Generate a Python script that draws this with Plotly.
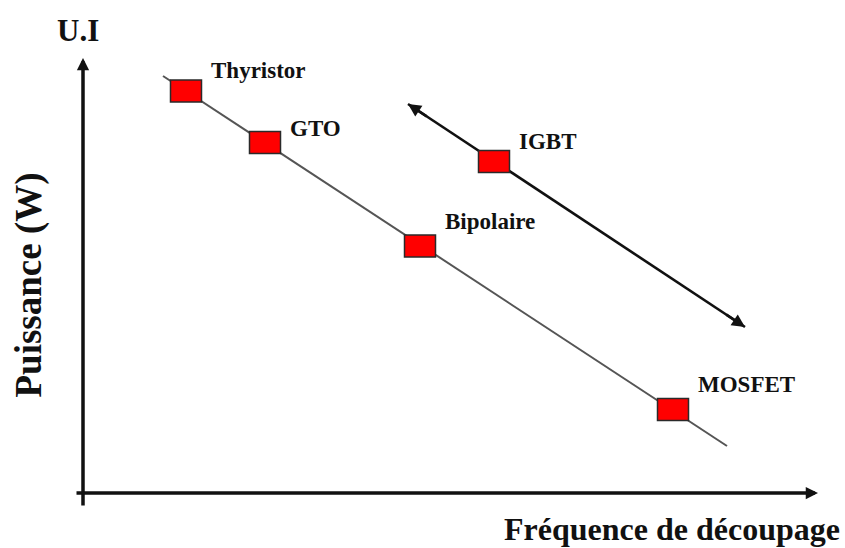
import plotly.graph_objects as go

# Power semiconductor devices: switching frequency vs. power (relative units)
devices = ["Thyristor", "GTO", "Bipolaire", "MOSFET", "IGBT"]
freq = [2.06, 3.64, 6.74, 11.80, 8.22]
power = [8.04, 7.01, 4.94, 1.67, 6.63]

# Trend line through the classic devices
trend_freq = [1.60, 12.88]
trend_power = [8.34, 0.94]

# IGBT operating span (double-headed arrow)
igbt_freq = [6.50, 13.24]
igbt_power = [7.78, 3.32]

# Axis extents (arrow tails and tips)
xaxis_span = [-0.16, 14.70]
yaxis_span = [-0.28, 8.70]

x_title = "Fréquence de découpage"
y_title = "Puissance (W)"
y_unit = "U.I"

# Label offsets in pixels (right, up) from each device marker
label_dx = 23
label_dy = [21, 14, 25, 25, 20]

SERIF = "Liberation Serif, Times New Roman, serif"
INK = "#111111"

fig = go.Figure()

# grey trend line
fig.add_trace(go.Scatter(
    x=trend_freq, y=trend_power, mode="lines",
    line=dict(color="#555555", width=2), hoverinfo="skip", showlegend=False,
))

# IGBT span line (heads added as annotations)
fig.add_trace(go.Scatter(
    x=igbt_freq, y=igbt_power, mode="lines",
    line=dict(color="#111111", width=2.6), hoverinfo="skip", showlegend=False,
))

shapes = []
for f, p in zip(freq, power):
    shapes.append(dict(
        type="rect", xref="x", yref="y",
        xsizemode="pixel", ysizemode="pixel",
        xanchor=f, yanchor=p,
        x0=-15.5, x1=15.5, y0=-11, y1=11,
        fillcolor="#ff0000", line=dict(color="#2a2a2a", width=1.5),
        layer="above",
    ))

annotations = []

# axes with arrowheads
annotations.append(dict(
    x=0, y=yaxis_span[1], ax=0, ay=yaxis_span[0],
    xref="x", yref="y", axref="x", ayref="y", text="",
    showarrow=True, arrowhead=2, arrowsize=0.7, arrowwidth=3.5,
    arrowcolor="#111111",
))
annotations.append(dict(
    x=xaxis_span[1], y=0, ax=xaxis_span[0], ay=0,
    xref="x", yref="y", axref="x", ayref="y", text="",
    showarrow=True, arrowhead=2, arrowsize=0.7, arrowwidth=3.5,
    arrowcolor="#111111",
))

# IGBT arrowheads at both ends
for i in (0, 1):
    tip_x, tip_y = igbt_freq[i], igbt_power[i]
    oth_x, oth_y = igbt_freq[1 - i], igbt_power[1 - i]
    tail_x = tip_x + 0.06 * (oth_x - tip_x)
    tail_y = tip_y + 0.06 * (oth_y - tip_y)
    annotations.append(dict(
        x=tip_x, y=tip_y, ax=tail_x, ay=tail_y,
        xref="x", yref="y", axref="x", ayref="y", text="",
        showarrow=True, arrowhead=2, arrowsize=1.0, arrowwidth=2.6,
        arrowcolor="#111111",
    ))

# device labels
for name, f, p, dy in zip(devices, freq, power, label_dy):
    annotations.append(dict(
        x=f, y=p, xref="x", yref="y", text=f"<b>{name}</b>",
        showarrow=False, xanchor="left", yanchor="middle",
        xshift=label_dx, yshift=dy,
        font=dict(family=SERIF, size=23, color=INK),
    ))

# axis titles
annotations.append(dict(
    x=0, y=yaxis_span[1], xref="x", yref="y", text=f"<b>{y_unit}</b>",
    showarrow=False, xanchor="center", yanchor="middle", xshift=-5, yshift=28,
    font=dict(family=SERIF, size=31, color=INK),
))
annotations.append(dict(
    x=xaxis_span[1], y=0, xref="x", yref="y", text=f"<b>{x_title}</b>",
    showarrow=False, xanchor="right", yanchor="middle", xshift=24, yshift=-36,
    font=dict(family=SERIF, size=32, color=INK),
))
annotations.append(dict(
    x=0, y=(yaxis_span[0] + yaxis_span[1]) / 2, xref="x", yref="y",
    text=f"<b>{y_title}</b>", textangle=-90,
    showarrow=False, xanchor="center", yanchor="middle", xshift=-55, yshift=-3,
    font=dict(family=SERIF, size=37, color=INK),
))

fig.update_layout(
    width=845, height=548,
    margin=dict(l=0, r=0, t=0, b=0),
    paper_bgcolor="white", plot_bgcolor="white",
    xaxis=dict(range=[-1.66, 15.24], visible=False, fixedrange=True),
    yaxis=dict(range=[-1.10, 9.86], visible=False, fixedrange=True),
    shapes=shapes, annotations=annotations,
    showlegend=False,
)

fig.write_html("out.html")
